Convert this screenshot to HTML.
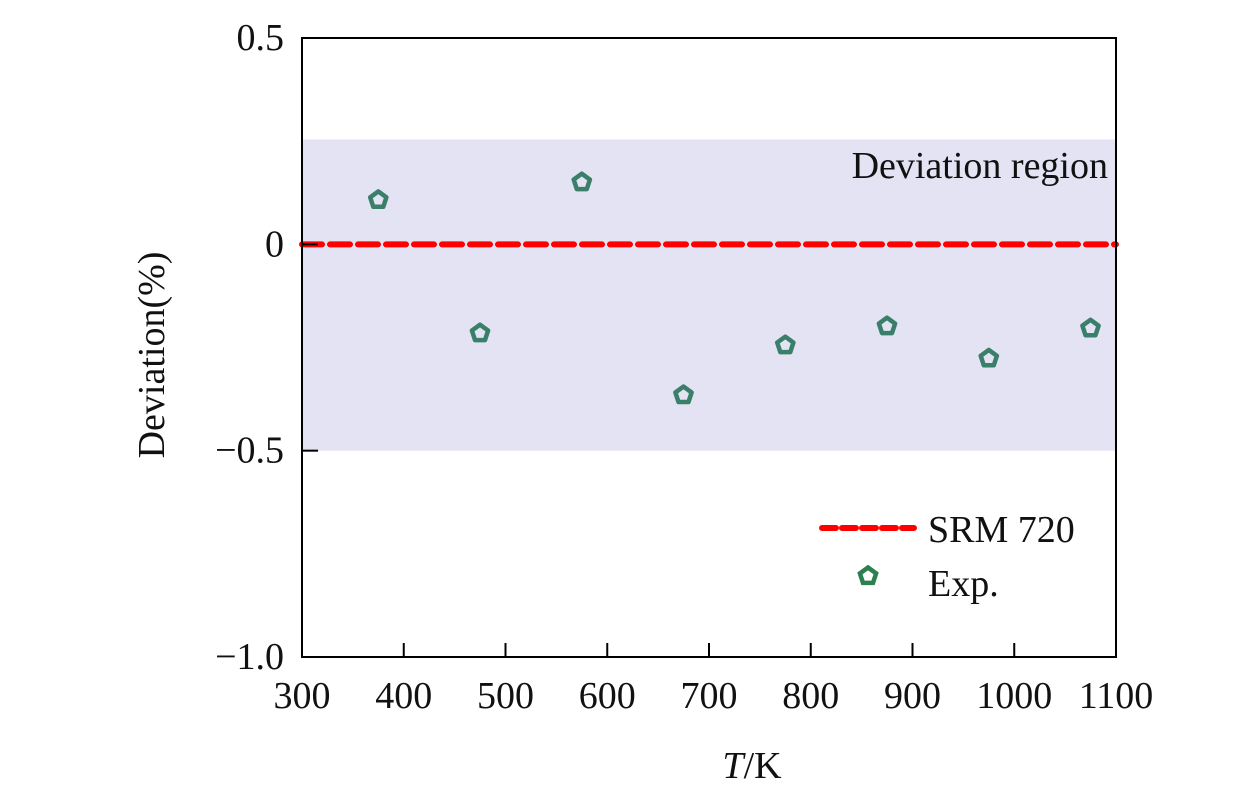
<!DOCTYPE html>
<html><head><meta charset="utf-8"><style>
body{margin:0;background:#fff}
svg text{font-family:"Liberation Serif",serif;fill:#111}
</style></head><body>
<svg width="1260" height="787" xmlns="http://www.w3.org/2000/svg">
<g id="g"></g>
</svg>
<script>
const temps=[373,473,573,673,773,873,973,1073];
const devs=[0.11,-0.213,0.153,-0.363,-0.242,-0.196,-0.274,-0.201];
const xTicks=[300,400,500,600,700,800,900,1000,1100];
const yTicks=[0.5,0,-0.5,-1.0];
const yTickLabels=["0.5","0","\u22120.5","\u22121.0"];
const region=[0.254,-0.5];
const X0=302,X1=1116,Y0=38,Y1=657;
const sx=v=>X0+(v-300)/800*(X1-X0);
const sy=v=>Y0+(0.5-v)/1.5*(Y1-Y0);
const g=document.getElementById('g');
const NS='http://www.w3.org/2000/svg';
function mk(t,a,p){const e=document.createElementNS(NS,t);for(const k in a)e.setAttribute(k,a[k]);(p||g).appendChild(e);return e;}
let r=mk('rect',{x:X0,y:sy(region[0]),width:X1-X0,height:sy(region[1])-sy(region[0]),fill:'#e3e3f3'});


let rt=mk('text',{x:1108,y:178,'text-anchor':'end','font-size':38,'xml:space':'preserve'});rt.textContent='Deviation  region';


let ln=mk('line',{x1:X0,x2:X1,y1:sy(0),y2:sy(0),stroke:'#f00','stroke-width':6,'stroke-dasharray':'20 8','stroke-linecap':'round'});


function pent(cx,cy){const pts=[];for(let i=0;i<5;i++){const a=-Math.PI/2+i*2*Math.PI/5;pts.push((cx+8.5*Math.cos(a)).toFixed(1)+','+(cy+1+8.5*Math.sin(a)).toFixed(1));}return pts.join(' ');}
temps.forEach((t,i)=>{const p=mk('polygon',{points:pent(sx(t)+2,sy(devs[i])),fill:'none',stroke:'#3a7f6a','stroke-width':4.5,'stroke-linejoin':'round'});

});
let fr=mk('rect',{x:X0,y:Y0,width:X1-X0,height:Y1-Y0,fill:'none',stroke:'#000','stroke-width':2});


xTicks.forEach(v=>{mk('line',{x1:sx(v),x2:sx(v),y1:Y1,y2:Y1-14,stroke:'#000','stroke-width':2});
const t=mk('text',{x:sx(v),y:708,'text-anchor':'middle','font-size':38});t.textContent=v;

});
yTicks.forEach((v,i)=>{mk('line',{x1:X0,x2:X0+16,y1:sy(v),y2:sy(v),stroke:'#000','stroke-width':2});
const t=mk('text',{x:284,y:sy(v)+12,'text-anchor':'end','font-size':38});t.textContent=yTickLabels[i];

});
let xt=mk('text',{x:752,y:778,'text-anchor':'middle','font-size':38});xt.innerHTML='<tspan font-style="italic">T</tspan>/K';


let yt=mk('text',{x:0,y:0,'text-anchor':'middle','font-size':38,transform:'translate(164,355) rotate(-90)'});yt.textContent='Deviation(%)';


let l1=mk('line',{x1:822,x2:914,y1:528,y2:528,stroke:'#f00','stroke-width':6,'stroke-dasharray':'14 6','stroke-linecap':'round'});


let t1=mk('text',{x:928,y:542,'font-size':38});t1.textContent='SRM 720';


let l2=mk('polygon',{points:pent(868,575),fill:'none',stroke:'#2b8050','stroke-width':4.5});


let t2=mk('text',{x:928,y:596,'font-size':38});t2.textContent='Exp.';


</script>
</body></html>
